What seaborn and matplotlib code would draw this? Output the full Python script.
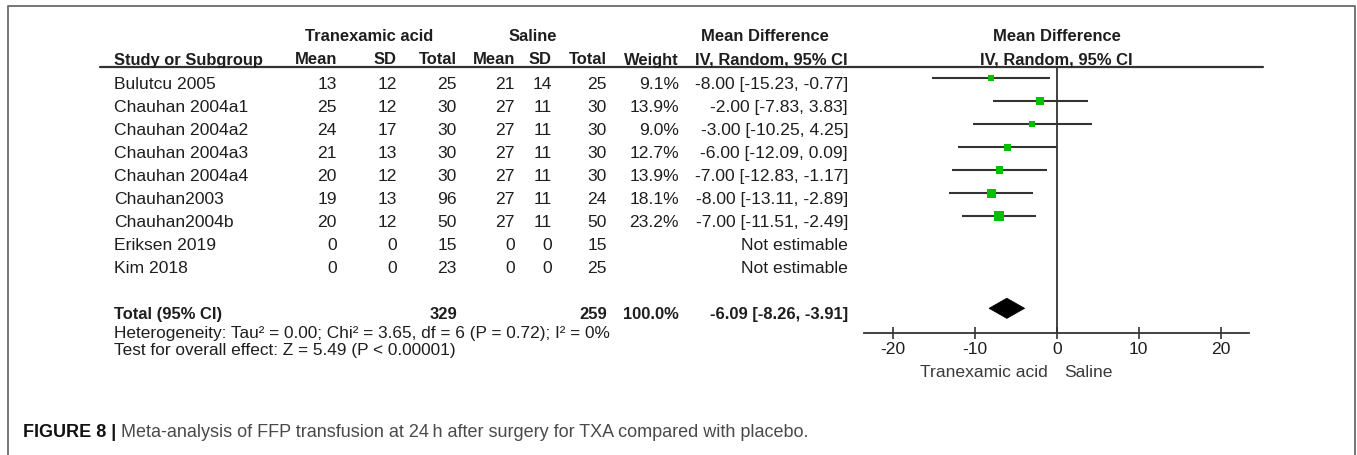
import numpy as np
import pandas as pd
import matplotlib
matplotlib.use("Agg")
import matplotlib.pyplot as plt
import matplotlib.transforms as mtransforms
from matplotlib.lines import Line2D
from matplotlib.patches import Polygon
import seaborn as sns

# ---- study data -----------------------------------------------------------
studies = ["Bulutcu 2005", "Chauhan 2004a1", "Chauhan 2004a2", "Chauhan 2004a3",
           "Chauhan 2004a4", "Chauhan2003", "Chauhan2004b", "Eriksen 2019", "Kim 2018"]
txa_mean = [13, 25, 24, 21, 20, 19, 20, 0, 0]
txa_sd = [12, 12, 17, 13, 12, 13, 12, 0, 0]
txa_total = [25, 30, 30, 30, 30, 96, 50, 15, 23]
sal_mean = [21, 27, 27, 27, 27, 27, 27, 0, 0]
sal_sd = [14, 11, 11, 11, 11, 11, 11, 0, 0]
sal_total = [25, 30, 30, 30, 30, 24, 50, 15, 25]
weight = [9.1, 13.9, 9.0, 12.7, 13.9, 18.1, 23.2, np.nan, np.nan]
md = [-8.00, -2.00, -3.00, -6.00, -7.00, -8.00, -7.00, np.nan, np.nan]
ci_low = [-15.23, -7.83, -10.25, -12.09, -12.83, -13.11, -11.51, np.nan, np.nan]
ci_high = [-0.77, 3.83, 4.25, 0.09, -1.17, -2.89, -2.49, np.nan, np.nan]

# pooled estimate
pooled_txa_total = 329
pooled_sal_total = 259
pooled_weight = 100.0
pooled_md = -6.09
pooled_low = -8.26
pooled_high = -3.91

x_ticks = [-20, -10, 0, 10, 20]
heterogeneity = "Heterogeneity: Tau\u00b2 = 0.00; Chi\u00b2 = 3.65, df = 6 (P = 0.72); I\u00b2 = 0%"
overall_effect = "Test for overall effect: Z = 5.49 (P < 0.00001)"
favours = ("Tranexamic acid", "Saline")
caption_bold = "FIGURE 8 |"
caption_text = " Meta-analysis of FFP transfusion at 24\u2009h after surgery for TXA compared with placebo."

# ---- style ----------------------------------------------------------------
sns.set_theme(style="white")
plt.rcParams["font.family"] = ["Liberation Sans", "DejaVu Sans"]

INK = "#1e1e1e"
LINE = "#333333"
GREEN = "#00c000"
FS = 12.6      # regular table text
FSB = 11.9     # bold table text
FS_NOTE = 12.45
FS_CAP = 13.0

W, H = 1357, 455
fig = plt.figure(figsize=(W / 100, H / 100), dpi=100)


def fx(px):
    return px / W


def fy(py):
    return 1 - py / H


# ---- forest plot axes -----------------------------------------------------
ROW = 23.0           # row pitch in pixels
top_px, axis_px = 67.0, 332.7
first_mark_px = 78.3
left_px, right_px = 864.2, 1249.2

ax = fig.add_axes([fx(left_px), fy(axis_px), (right_px - left_px) / W, (axis_px - top_px) / H])
ax.patch.set_alpha(0)

rows = np.arange(len(studies))
forest = pd.DataFrame({"row": rows, "md": md, "low": ci_low, "high": ci_high, "weight": weight})
est = forest.dropna()

ax.hlines(est["row"], est["low"], est["high"], color=LINE, lw=1.5, zorder=2)
k = (2.05 * 0.72) ** 2
wmin, wmax = est["weight"].min(), est["weight"].max()
sns.scatterplot(data=est, x="md", y="row", size="weight", sizes=(k * wmin, k * wmax),
                size_norm=(wmin, wmax), marker="s", color=GREEN, linewidth=0,
                legend=False, ax=ax, zorder=3)

total_row = len(studies) + 1
h = 0.44
diamond = Polygon([(pooled_low, total_row), (pooled_md, total_row - h),
                   (pooled_high, total_row), (pooled_md, total_row + h)],
                  closed=True, facecolor="black", edgecolor="black", lw=0.5, zorder=3)
ax.add_patch(diamond)

ax.axvline(0, color=LINE, lw=1.3, zorder=1)
ax.set_xlim(-23.5, 23.5)
ax.set_ylim((axis_px - first_mark_px) / ROW, -(first_mark_px - top_px) / ROW)
ax.set_xlabel("")
ax.set_ylabel("")
ax.set_yticks([])
ax.set_xticks(x_ticks)
ax.set_xticklabels([str(t) for t in x_ticks])
ax.tick_params(axis="x", direction="inout", length=9, width=1.2, pad=2.5,
               labelsize=FS, colors=LINE, labelcolor=INK, bottom=True)
for side in ("top", "left", "right"):
    ax.spines[side].set_visible(False)
ax.spines["bottom"].set_color(LINE)
ax.spines["bottom"].set_linewidth(1.3)

# favours labels under the axis
fav_tr = mtransforms.blended_transform_factory(ax.transData, fig.transFigure)
ax.text(-1.06, fy(376.7), favours[0], transform=fav_tr, ha="right", va="baseline",
        fontsize=FS, color="#3a3a3a")
ax.text(0.93, fy(376.7), favours[1], transform=fav_tr, ha="left", va="baseline",
        fontsize=FS, color="#3a3a3a")

# ---- table ----------------------------------------------------------------
row_tr = mtransforms.blended_transform_factory(fig.transFigure, ax.transData)
base = 11.0 / ROW  # text baseline sits below the mark centre


def cell(px, row, s, ha="right", bold=False):
    fig.text(fx(px), row + base, s, transform=row_tr, ha=ha, va="baseline",
             fontsize=FSB if bold else FS, fontweight="bold" if bold else "normal",
             color=INK)


def fmt_ci(m, lo, hi):
    return f"{m:.2f} [{lo:.2f}, {hi:.2f}]"


for i, name in enumerate(studies):
    cell(114, i, name, ha="left")
    cell(337, i, str(txa_mean[i]))
    cell(397, i, str(txa_sd[i]))
    cell(457, i, str(txa_total[i]))
    cell(515, i, str(sal_mean[i]))
    cell(552, i, str(sal_sd[i]))
    cell(607, i, str(sal_total[i]))
    if np.isnan(md[i]):
        cell(848, i, "Not estimable")
    else:
        cell(679, i, f"{weight[i]:.1f}%")
        cell(848, i, fmt_ci(md[i], ci_low[i], ci_high[i]))

cell(114, total_row, "Total (95% CI)", ha="left", bold=True)
cell(457, total_row, str(pooled_txa_total), bold=True)
cell(607, total_row, str(pooled_sal_total), bold=True)
cell(679, total_row, f"{pooled_weight:.1f}%", bold=True)
cell(848, total_row, fmt_ci(pooled_md, pooled_low, pooled_high), bold=True)

# headers
def head(px, py, s, ha="right"):
    fig.text(fx(px), fy(py), s, ha=ha, va="baseline", fontsize=FSB,
             fontweight="bold", color=INK)


head(369.5, 40.7, "Tranexamic acid", ha="center")
head(532.5, 40.7, "Saline", ha="center")
head(764.5, 40.7, "Mean Difference", ha="center")
head(1056.5, 40.7, "Mean Difference", ha="center")
head(114, 64.5, "Study or Subgroup", ha="left")
head(337, 64.5, "Mean")
head(397, 64.5, "SD")
head(457, 64.5, "Total")
head(515, 64.5, "Mean")
head(552, 64.5, "SD")
head(607, 64.5, "Total")
head(679, 64.5, "Weight")
head(848, 64.5, "IV, Random, 95% CI")
head(1056.5, 64.5, "IV, Random, 95% CI", ha="center")

fig.add_artist(Line2D([fx(100), fx(1263)], [fy(67), fy(67)], color=LINE, lw=1.6))

# footnotes
fig.text(fx(114), fy(338.3), heterogeneity, ha="left", va="baseline",
         fontsize=FS_NOTE, color=INK)
fig.text(fx(114), fy(355.3), overall_effect, ha="left", va="baseline",
         fontsize=FS_NOTE, color=INK)

# outer frame (open at the bottom)
fig.add_artist(Line2D([fx(7.5), fx(7.5), fx(1355), fx(1355)],
                      [fy(470), fy(6), fy(6), fy(470)], color="#6a6a6a", lw=1.3,
                      clip_on=False))

# caption
cap = fig.text(fx(22.7), fy(437), caption_bold, ha="left", va="baseline",
               fontsize=FS_CAP, fontweight="bold", color="#111111")
ax.annotate(caption_text, xy=(1, 0), xycoords=cap, ha="left", va="bottom",
            fontsize=FS_CAP, color="#4a4a4a", annotation_clip=False)

fig.savefig("out.png", dpi=100, facecolor="white")
